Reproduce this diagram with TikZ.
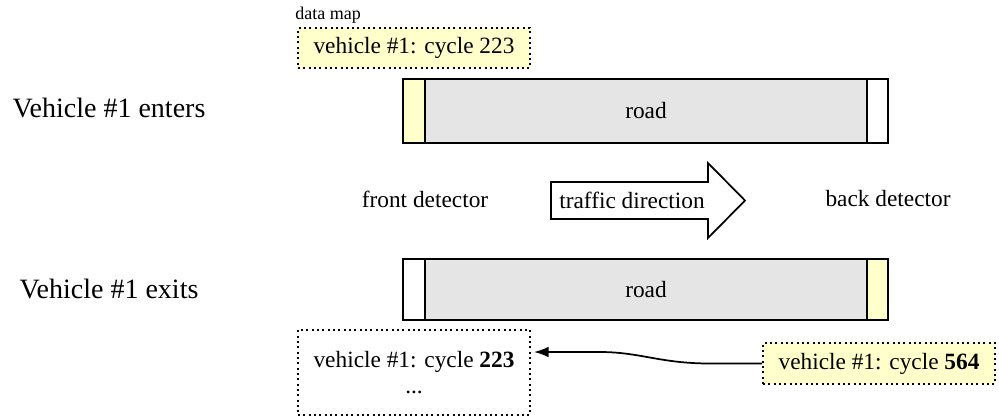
\documentclass[tikz,border=0pt]{standalone}
\usepackage{fontspec}
\setmainfont{Liberation Serif}
\usetikzlibrary{arrows.meta,calc}
\definecolor{paleyellow}{HTML}{FFFFCC}
\definecolor{roadgray}{HTML}{E5E5E5}
\tikzset{
  x=0.75pt, y=-0.75pt,
  body/.style={font=\fontsize{17.5pt}{21pt}\selectfont},
  rowlabel/.style={font=\fontsize{21pt}{25pt}\selectfont},
  roadbody/.style={draw, line width=1.3pt, fill=roadgray, minimum width=331.5pt, inner sep=0pt, body},
  detector/.style={draw, line width=1.3pt, minimum width=16pt, inner sep=0pt},
  mapbox/.style={draw, line width=1.4pt, dash pattern=on 1.4pt off 2.6pt, inner sep=0pt, body},
  flow/.style={line width=1.3pt, -{Latex[length=11pt,width=8pt]}}
}
\begin{document}
\begin{tikzpicture}
\useasboundingbox (0,0) rectangle (999,419);
% top
\node[font=\fontsize{13.5pt}{16pt}\selectfont] (dm) at (328,15) {data map};
\node[mapbox, fill=paleyellow, minimum width=174pt, minimum height=30pt] (tb) at (414,48) {vehicle \#1: cycle 223};
\node[rowlabel] (enter) at (109,108) {Vehicle \#1 enters};
\node[roadbody, minimum height=48pt] (road1) at (646,111) {road};
\node[detector, fill=paleyellow, minimum height=48pt] (fd1) at (414,111) {};
\node[detector, fill=white, minimum height=48pt] (bd1) at (877.5,111) {};
% middle
\node[body] (front) at (425,199) {front detector};
\node[body] (back) at (888,199) {back detector};
\draw[line width=1.3pt, fill=white] (551,182) -- (708,182) -- (708,163) -- (745,200.5) -- (708,238) -- (708,219) -- (551,219) -- cycle;
\node[body] (traffic) at (632,200) {traffic direction};
% bottom
\node[rowlabel] (exit) at (109,289) {Vehicle \#1 exits};
\node[roadbody, minimum height=45.75pt] (road2) at (646,289.5) {road};
\node[detector, fill=white, minimum height=45.75pt] (fd2) at (414,289.5) {};
\node[detector, fill=paleyellow, minimum height=45.75pt] (bd2) at (877.5,289.5) {};
\node[mapbox, minimum width=174pt, minimum height=63.75pt, align=center] (lb) at (414,372.5) {vehicle \#1: cycle \textbf{223}\\[-1pt]...};
\node[mapbox, fill=paleyellow, minimum width=174pt, minimum height=30.75pt] (yb) at (879,363.5) {vehicle \#1: cycle \textbf{564}};
\draw[flow] (yb.west) -- (710,363.5) .. controls (660,363.5) and (640,352) .. (600,352) -- ($(lb.east)+(3,-20.5)$);
\end{tikzpicture}
\end{document}
